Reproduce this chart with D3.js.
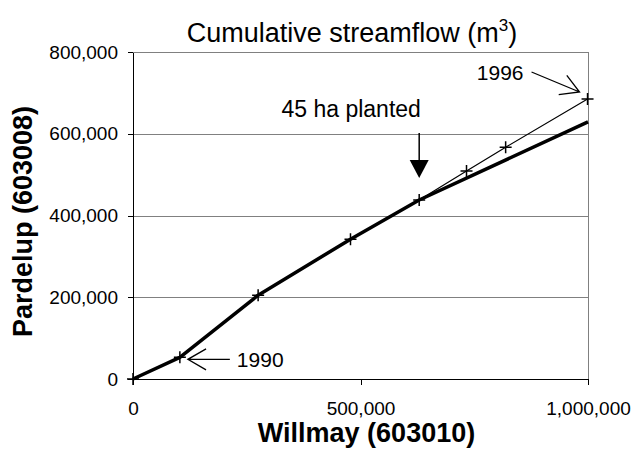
<!DOCTYPE html>
<meta charset="utf-8">
<style>
body { margin: 0; background: #fff; }
svg { font-family: "Liberation Sans", Arial, sans-serif; }
.grid line { stroke: #808080; stroke-width: 1px; shape-rendering: crispEdges; }
.grid path { stroke-width: 0; }
.axis path, .axis line { stroke: #000; shape-rendering: crispEdges; }
.axis text { font-size: 19px; fill: #000; }
.observed { fill: none; stroke: #000; stroke-width: 1.2px; }
.trend { fill: none; stroke: #000; stroke-width: 3.5px; stroke-linejoin: round; }
.cross { stroke: #000; stroke-width: 1.5px; }
.note { font-size: 21px; fill: #000; }
.arrow { fill: none; stroke: #000; stroke-width: 1.3px; }
</style>
<body>
<script src="https://d3js.org/d3.v7.min.js"></script>
<script>

// cumulative streamflow, one point per year (origin, then 1990 .. 1996)
var years    = [1989, 1990, 1991, 1992, 1993, 1994, 1995, 1996];
var willmay  = [0, 103000, 275000, 478000, 629000, 733000, 819000, 999000];
var pardelup = [0, 53000, 205000, 342000, 438000, 509000, 567000, 685000];

// pre-planting relationship, carried on to the end of the record
var trendX = [0, 103000, 275000, 478000, 629000, 1000000];
var trendY = [0, 53000, 205000, 342000, 438000, 629000];

var xTicks = [0, 500000, 1000000];
var yTicks = [0, 200000, 400000, 600000, 800000];

var plantedAt = 629000;   // willmay volume when the 45 ha were planted

// set the dimensions and margins of the graph
var margin = {top: 52, right: 43, bottom: 73, left: 133},
    width = 631 - margin.left - margin.right,
    height = 452 - margin.top - margin.bottom;

var x = d3.scaleLinear().domain([0, 1000000]).range([0, width]);
var y = d3.scaleLinear().domain([0, 800000]).range([height, 0]);

var svg = d3.select("body")
  .append("svg")
    .attr("width", 631)
    .attr("height", 452);

var g = svg.append("g")
    .attr("transform", "translate(" + margin.left + "," + margin.top + ")");

// horizontal gridlines (incl. top border)
g.append("g")
    .attr("class", "grid")
    .call(d3.axisLeft(y).tickValues(yTicks.slice(1)).tickSize(-width).tickFormat(""));

// right border
g.append("line")
    .attr("x1", width).attr("x2", width)
    .attr("y1", 0).attr("y2", height)
    .style("stroke", "#808080")
    .style("shape-rendering", "crispEdges");

// axes
g.append("g")
    .attr("class", "axis")
    .attr("transform", "translate(0," + height + ")")
    .call(d3.axisBottom(x).tickValues(xTicks).tickSize(6).tickSizeOuter(0)
      .tickPadding(17).tickFormat(d3.format(",")));

g.append("g")
    .attr("class", "axis")
    .call(d3.axisLeft(y).tickValues(yTicks).tickSize(5).tickSizeOuter(0)
      .tickPadding(10).tickFormat(d3.format(",")));

g.selectAll(".axis .domain").style("stroke-width", 1.3);

// observed (thin line with markers)
var pts = years.map(function(d, i) { return {year: d, x: willmay[i], y: pardelup[i]}; });

g.append("path")
    .datum(pts)
    .attr("class", "observed")
    .attr("d", d3.line()
      .x(function(d) { return x(d.x); })
      .y(function(d) { return y(d.y); }));

// trend line (thick)
g.append("path")
    .datum(trendX.map(function(d, i) { return [d, trendY[i]]; }))
    .attr("class", "trend")
    .attr("d", d3.line()
      .x(function(d) { return x(d[0]); })
      .y(function(d) { return y(d[1]); }));

// + markers
g.selectAll(".cross")
    .data(pts)
  .enter().append("path")
    .attr("class", "cross")
    .attr("d", function(d) {
      var cx = x(d.x), cy = y(d.y), s = 6;
      return "M" + (cx - s) + "," + cy + "H" + (cx + s) +
             "M" + cx + "," + (cy - s) + "V" + (cy + s);
    });

// open arrow head helper
function openArrow(x1, y1, x2, y2) {
  var a = Math.atan2(y2 - y1, x2 - x1), len = 21, spread = Math.PI / 6;
  return "M" + x1 + "," + y1 + "L" + x2 + "," + y2 +
    "M" + (x2 - len * Math.cos(a - spread)) + "," + (y2 - len * Math.sin(a - spread)) +
    "L" + x2 + "," + y2 +
    "L" + (x2 - len * Math.cos(a + spread)) + "," + (y2 - len * Math.sin(a + spread));
}

// 1990 label
var p0 = pts[1];
var px0 = x(p0.x), py0 = y(p0.y);
g.append("path")
    .attr("class", "arrow")
    .attr("d", openArrow(px0 + 50, py0 + 2, px0 + 8, py0 + 2));
g.append("text")
    .attr("class", "note")
    .attr("x", px0 + 57)
    .attr("y", py0 + 10)
    .text(p0.year);

// 1996 label
var p1 = pts[pts.length - 1];
var px1 = x(p1.x), py1 = y(p1.y);
g.append("path")
    .attr("class", "arrow")
    .attr("d", openArrow(px1 - 56, py1 - 27, px1 - 8, py1 - 7));
g.append("text")
    .attr("class", "note")
    .attr("x", px1 - 64)
    .attr("y", py1 - 19)
    .attr("text-anchor", "end")
    .text(p1.year);

// planting arrow
var ax = x(plantedAt);
var tipY = y(492000);
g.append("line")
    .attr("x1", ax).attr("x2", ax)
    .attr("y1", y(602000)).attr("y2", tipY - 16)
    .style("stroke", "#000")
    .style("stroke-width", 1.5);
g.append("path")
    .attr("d", "M" + (ax - 9.5) + "," + (tipY - 18) + "L" + (ax + 9.5) + "," + (tipY - 18) +
               "L" + ax + "," + tipY + "Z")
    .style("fill", "#000");
g.append("text")
    .attr("class", "note")
    .attr("x", ax - 68)
    .attr("y", y(640000))
    .attr("text-anchor", "middle")
    .style("font-size", "23px")
    .text("45 ha planted");

// chart title
var title = svg.append("text")
    .attr("x", 352)
    .attr("y", 42)
    .attr("text-anchor", "middle")
    .style("font-size", "27px");
title.append("tspan").text("Cumulative streamflow (m");
title.append("tspan").attr("dy", -11).style("font-size", "17px").text("3");
title.append("tspan").attr("dy", 11).text(")");

// axis titles
svg.append("text")
    .attr("x", margin.left + width / 2 + 6)
    .attr("y", 442)
    .attr("text-anchor", "middle")
    .style("font-size", "27px")
    .style("font-weight", "bold")
    .text("Willmay (603010)");

svg.append("text")
    .attr("transform", "translate(32," + (margin.top + height / 2 + 6) + ") rotate(-90)")
    .attr("text-anchor", "middle")
    .style("font-size", "27px")
    .style("font-weight", "bold")
    .text("Pardelup (603008)");

</script>
</body>
